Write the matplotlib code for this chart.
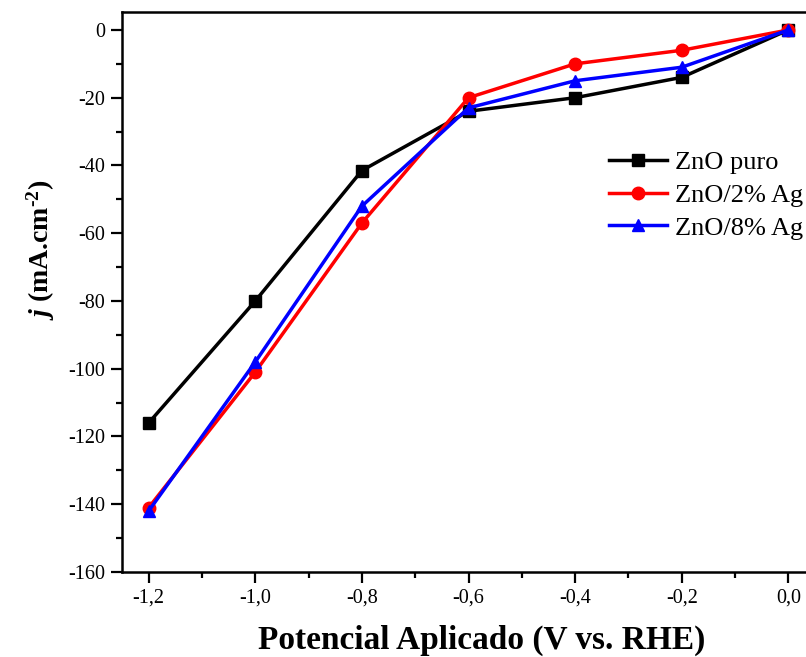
import matplotlib
matplotlib.use('Agg')
import matplotlib.pyplot as plt
from matplotlib.ticker import MultipleLocator, FuncFormatter

plt.rcParams['font.family'] = ['Liberation Serif', 'DejaVu Serif']
plt.rcParams['mathtext.fontset'] = 'custom'
plt.rcParams['mathtext.rm'] = 'Liberation Serif:bold'
plt.rcParams['mathtext.it'] = 'Liberation Serif:italic:bold'
plt.rcParams['mathtext.bf'] = 'Liberation Serif:bold'

# data
potential = [-1.2, -1.0, -0.8, -0.6, -0.4, -0.2, 0.0]
znoPuro   = [-116, -80, -41.5, -24, -20, -14, 0]
zno2Ag    = [-141, -101, -57, -20, -10, -6, 0]
zno8Ag    = [-142, -98, -52, -23, -15, -11, 0]

labels = ['ZnO puro', 'ZnO/2% Ag', 'ZnO/8% Ag']

fig = plt.figure(figsize=(8.06, 6.57), dpi=100)
# right edge of the axes is cut off in the original
ax = fig.add_axes([122/806, 1-572/657, (815-122)/806, (572-12)/657])

ax.plot(potential, znoPuro, color='black', marker='s', lw=2.5, ms=8, label=labels[0])
ax.plot(potential, zno2Ag, color='red', marker='o', lw=2.5, ms=9, label=labels[1])
ax.plot(potential, zno8Ag, color='blue', marker='^', lw=2.5, ms=9, label=labels[2])

ax.set_xlim(-1.25, 0.05)
ax.set_ylim(-160, 5.3)
ax.xaxis.set_major_locator(MultipleLocator(0.2))
ax.xaxis.set_minor_locator(MultipleLocator(0.1))
ax.yaxis.set_major_locator(MultipleLocator(20))
ax.yaxis.set_minor_locator(MultipleLocator(10))
ax.xaxis.set_major_formatter(FuncFormatter(lambda v, p: ('%.1f' % v).replace('.', ',').replace('-0,0', '0,0')))
ax.yaxis.set_major_formatter(FuncFormatter(lambda v, p: '%d' % v))

ax.tick_params(which='both', direction='out', width=1.6, labelsize=14.5)
ax.tick_params(which='major', length=8, pad=4)
ax.tick_params(which='minor', length=4.5)
for s in ax.spines.values():
    s.set_linewidth(1.8)

ax.set_xlabel('Potencial Aplicado (V vs. RHE)', fontsize=24, fontweight='bold')
ax.xaxis.set_label_coords(0.519, -0.094)
ax.set_ylabel('$j$ (mA.cm$^{\u2010 2}$)', fontsize=20, fontweight='bold')
ax.yaxis.set_label_coords(-0.094, 0.575)

ax.legend(loc='center left', bbox_to_anchor=((609-122)/693, (572-195)/560), frameon=False,
          fontsize=19, handlelength=2.2, handletextpad=0.3, labelspacing=0.36,
          borderaxespad=0, borderpad=0)

fig.savefig('out.png', dpi=100)
